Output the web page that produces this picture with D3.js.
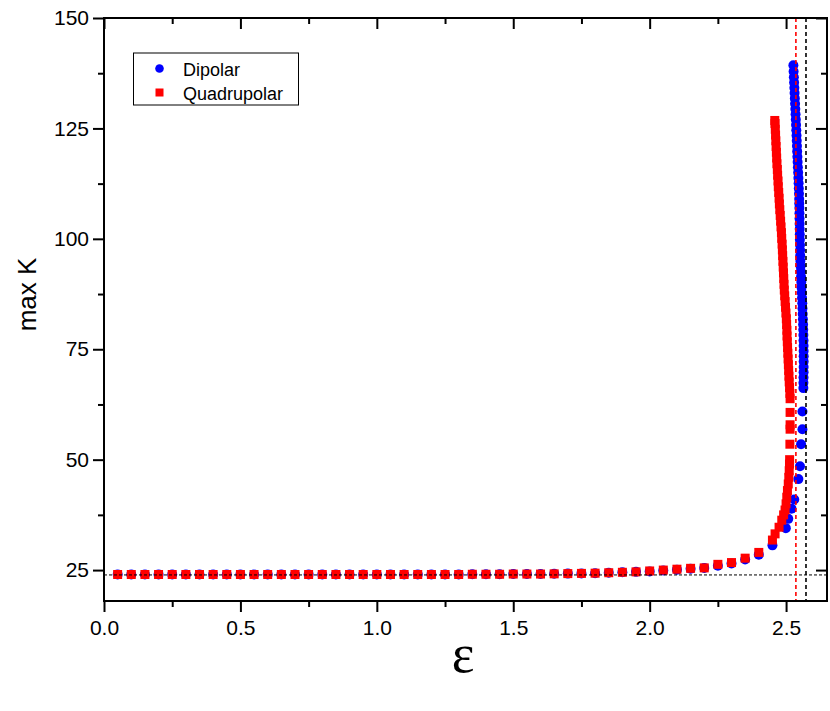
<!DOCTYPE html>
<html><head><meta charset="utf-8">
<script src="https://cdn.jsdelivr.net/npm/d3@7/dist/d3.min.js"></script>
<style>body{margin:0;background:#fff}svg{display:block}</style>
</head><body><svg id="c" width="830" height="711"></svg>
<script>
// ---------- data ----------
const lowEps = [0.05,0.10,0.15,0.20,0.25,0.30,0.35,0.40,0.45,0.50,0.55,0.60,0.65,0.70,0.75,0.80,0.85,0.90,0.95,1.00,
  1.05,1.10,1.15,1.20,1.25,1.30,1.35,1.40,1.45,1.50,1.55,1.60,1.65,1.70,1.75,1.80,1.85,1.90,1.95,2.00,
  2.05,2.10,2.15,2.20,2.25,2.30,2.35,2.40,2.45];
const dipolarLow = [24.0,24.0,24.0,24.0,24.0,24.0,24.0,24.0,24.0,24.0,24.0,24.0,24.0,24.0,24.0,24.0,24.0,24.0,24.0,24.0,
  24.0,24.0,24.0,24.0,24.0,24.0,24.05,24.05,24.05,24.1,24.1,24.1,24.15,24.2,24.25,24.3,24.4,24.5,24.6,24.7,
  24.9,25.1,25.3,25.5,26.0,26.5,27.4,28.5,30.6];
const quadLow = [24.0,24.0,24.0,24.0,24.0,24.0,24.0,24.0,24.0,24.0,24.0,24.0,24.0,24.0,24.0,24.0,24.0,24.0,24.0,24.0,
  24.0,24.0,24.0,24.0,24.0,24.0,24.05,24.05,24.05,24.1,24.1,24.1,24.15,24.2,24.25,24.3,24.4,24.5,24.6,24.8,
  25.0,25.2,25.4,25.5,26.3,26.7,27.7,29.0,31.8];

const dipolarTailEps = [2.499,2.508,2.520,2.530,2.545,2.551,2.555,2.560,2.560,2.5634,
  2.5636,2.5639,2.5642,2.5644,2.5645,2.5645,2.5644,2.5642,2.5639,2.5635,2.5630,2.5624,2.5617,2.5610,2.5602,
  2.5594,2.5585,2.5576,2.5567,2.5558,2.5549,2.5540,2.5532,2.5525,2.5519,2.5514,2.5510,2.5506,2.5502,2.5499,
  2.5496,2.5493,2.5490,2.5487,2.5483,2.5480,2.5474,2.5467,2.5460,2.5452,2.5443,2.5433,2.5423,2.5415,2.5407,
  2.5399,2.5391,2.5383,2.5375,2.5366,2.5357,2.5348,2.5339,2.5330,2.5321,2.5312,2.5303,2.5294,2.5285,2.5276,2.5268];
const dipolarTailK = [34.5,36.6,38.9,41.0,45.6,48.5,53.5,56.9,60.9,66.2,
  67.4,68.6,69.8,71.0,72.2,73.4,74.6,75.8,77.0,78.2,79.4,80.6,81.8,83.0,84.2,
  85.4,86.6,87.8,89.0,90.2,91.4,92.6,93.8,95.0,96.2,97.4,98.6,99.8,101.0,102.2,
  103.4,104.6,105.8,107.0,108.0,109.0,110.2,111.4,112.6,113.8,115.0,116.2,117.4,118.6,119.8,
  121.0,122.2,123.4,124.6,125.8,127.0,128.2,129.4,130.6,131.8,133.0,134.2,135.4,136.6,137.9,139.3];

const quadTailEps = [2.4597,2.4743,2.4842,2.4910,2.4963,2.5000,2.5026,2.5050,2.5080,2.5100,2.5115,2.5125,2.5130,
  2.5140,2.5147,2.5147,2.5147,
  2.5147,2.5140,2.5128,2.5115,2.5105,2.5095,2.5085,2.5075,2.5065,2.5055,2.5045,2.5035,2.5030,2.5020,2.5010,
  2.4995,2.4980,2.4965,2.4950,2.4935,2.4925,2.4915,2.4905,2.4895,2.4885,2.4875,2.4865,2.4855,2.4840,2.4830,
  2.4815,2.4800,2.4785,2.4770,2.4755,2.4745,2.4730,2.4715,2.4705,2.4690,2.4680,2.4665,2.4655,2.4645,2.4635,
  2.4625,2.4615,2.4605,2.4595,2.4586];
const quadTailK = [33.2,34.7,36.3,37.5,38.6,40.0,41.5,43.0,44.5,46.0,47.5,49.0,50.0,
  53.5,56.9,57.9,60.7,
  63.8,65.0,66.3,67.6,68.9,70.2,71.5,72.8,74.1,75.4,76.7,78.0,79.3,80.6,81.9,
  83.2,84.5,85.8,87.1,88.4,89.7,91.0,92.3,93.6,94.9,96.2,97.5,98.8,100.1,101.4,
  102.7,104.0,105.3,106.6,107.9,109.2,110.5,111.8,113.1,114.4,115.7,117.0,118.3,119.6,120.9,
  122.2,123.5,124.8,126.1,126.8];

const xMajorTicks = [0.0,0.5,1.0,1.5,2.0,2.5];
const xMinorTicks = [0.25,0.75,1.25,1.75,2.25];
const yMajorTicks = [25,50,75,100,125,150];
const yMinorTicks = [37.5,62.5,87.5,112.5,137.5];
const refK = 23.9;          // horizontal dotted line
const refEpsRed = 2.536;    // red dashed vertical
const refEpsBlack = 2.573;  // black dashed vertical
const seriesNames = ["Dipolar","Quadrupolar"];
const xLabel = "ε", yLabel = "max K";

// ---------- build ----------
const L = 104, R = 827, T = 18, B = 601;
const x = d3.scaleLinear().domain([0, 2.65]).range([L, R]);
const y = d3.scaleLinear().domain([18, 150]).range([B, T]);
const svg = d3.select("#c");
const font = "'Liberation Sans', Arial, sans-serif";

const dip = lowEps.map((e,i)=>({e, k:dipolarLow[i]})).concat(dipolarTailEps.map((e,i)=>({e, k:dipolarTailK[i]})));
const quad = lowEps.map((e,i)=>({e, k:quadLow[i]})).concat(quadTailEps.map((e,i)=>({e, k:quadTailK[i]})));

const plot = svg.append("g");
plot.selectAll("circle.d").data(dip).join("circle").attr("class","d")
  .attr("cx", d=>x(d.e)).attr("cy", d=>y(d.k)).attr("r", 5).attr("fill", "#0000ff");
plot.selectAll("rect.q").data(quad).join("rect").attr("class","q")
  .attr("x", d=>x(d.e)-4.5).attr("y", d=>y(d.k)-4.5).attr("width", 9).attr("height", 9).attr("fill", "#ff0000");

// reference lines
svg.append("line").attr("x1", L).attr("x2", R).attr("y1", y(refK)).attr("y2", y(refK))
  .attr("stroke","#000").attr("stroke-width",1).attr("stroke-dasharray","3,2");
svg.append("line").attr("x1", x(refEpsRed)).attr("x2", x(refEpsRed)).attr("y1", T).attr("y2", B)
  .attr("stroke","#ff0000").attr("stroke-width",1.6).attr("stroke-dasharray","4,3");
svg.append("line").attr("x1", x(refEpsBlack)).attr("x2", x(refEpsBlack)).attr("y1", T).attr("y2", B)
  .attr("stroke","#000").attr("stroke-width",1.6).attr("stroke-dasharray","4,3");

// axes
function styleAxis(g){
  g.select(".domain").remove();
  g.selectAll("line").attr("stroke","#000").attr("stroke-width",2);
  g.selectAll("text").attr("font-family", font).attr("font-size", 21).attr("fill","#000");
}
svg.append("g").attr("transform",`translate(0,${B})`)
  .call(d3.axisBottom(x).tickValues(xMajorTicks).tickSize(11).tickPadding(8).tickFormat(d3.format(".1f"))).call(styleAxis);
svg.append("g").attr("transform",`translate(0,${B})`)
  .call(d3.axisBottom(x).tickValues(xMinorTicks).tickSize(6).tickFormat("")).call(styleAxis);
svg.append("g").attr("transform",`translate(0,${T})`)
  .call(d3.axisBottom(x).tickValues(xMajorTicks).tickSize(11).tickFormat("")).call(styleAxis);
svg.append("g").attr("transform",`translate(0,${T})`)
  .call(d3.axisBottom(x).tickValues(xMinorTicks).tickSize(6).tickFormat("")).call(styleAxis);
svg.append("g").attr("transform",`translate(${L},0)`)
  .call(d3.axisLeft(y).tickValues(yMajorTicks).tickSize(11).tickPadding(4)).call(styleAxis);
svg.append("g").attr("transform",`translate(${L},0)`)
  .call(d3.axisLeft(y).tickValues(yMinorTicks).tickSize(6).tickFormat("")).call(styleAxis);
svg.append("g").attr("transform",`translate(${R},0)`)
  .call(d3.axisLeft(y).tickValues(yMajorTicks).tickSize(11).tickFormat("")).call(styleAxis);
svg.append("g").attr("transform",`translate(${R},0)`)
  .call(d3.axisLeft(y).tickValues(yMinorTicks).tickSize(6).tickFormat("")).call(styleAxis);

// frame
svg.append("rect").attr("x", L).attr("y", T).attr("width", R-L).attr("height", B-T)
  .attr("fill","none").attr("stroke","#000").attr("stroke-width",2);

// axis labels
svg.append("text").attr("x", 463).attr("y", 672).attr("text-anchor","middle")
  .attr("font-family","'Liberation Serif','Times New Roman',serif").attr("font-size",54).text(xLabel);
svg.append("text").attr("transform",`translate(36,${(T+B)/2 - 15}) rotate(-90)`).attr("text-anchor","middle")
  .attr("font-family", font).attr("font-size",26).text(yLabel);

// legend
const lg = svg.append("g");
lg.append("rect").attr("x",133.5).attr("y",53).attr("width",165).attr("height",52)
  .attr("fill","#fff").attr("stroke","#000").attr("stroke-width",1);
lg.append("circle").attr("cx",159.5).attr("cy",68.5).attr("r",4.3).attr("fill","#0000ff");
lg.append("rect").attr("x",155.5).attr("y",88.5).attr("width",8).attr("height",8).attr("fill","#ff0000");
lg.append("text").attr("x",183).attr("y",75.5).attr("font-family",font).attr("font-size",18).text(seriesNames[0]);
lg.append("text").attr("x",183).attr("y",99.5).attr("font-family",font).attr("font-size",18).text(seriesNames[1]);
</script></body></html>
